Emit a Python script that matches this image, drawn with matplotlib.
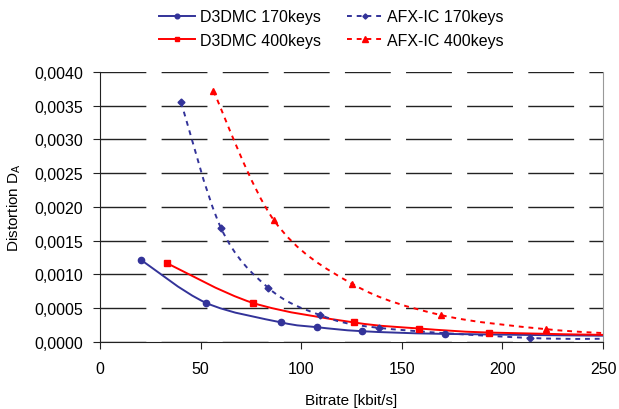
import matplotlib
matplotlib.use("Agg")
import matplotlib.pyplot as plt
from matplotlib.ticker import FuncFormatter, MultipleLocator
from matplotlib.path import Path
from matplotlib.patches import PathPatch
from matplotlib.lines import Line2D

plt.rcParams['font.family'] = ['Liberation Sans', 'DejaVu Sans']
plt.rcParams['mathtext.fontset'] = 'custom'
plt.rcParams['mathtext.rm'] = 'Liberation Sans'

# data (bitrate kbit/s, distortion)
d3dmc_170_x = [20.2, 52.7, 90.1, 107.7, 130.4, 171.6, 262]
d3dmc_170_y = [0.00122, 0.00058, 0.00029, 0.00022, 0.00016, 0.00012, 0.00009]
d3dmc_400_x = [33.1, 75.9, 126.2, 158.7, 193.3, 262]
d3dmc_400_y = [0.00117, 0.00058, 0.00029, 0.00020, 0.00014, 0.00010]
afx_170_x = [40.3, 60.1, 83.7, 109.3, 138.5, 213.7, 262]
afx_170_y = [0.00355, 0.00169, 0.00080, 0.00040, 0.00021, 0.00006, 0.00005]
afx_400_x = [56.3, 86.5, 125.4, 169.3, 221.7, 265]
afx_400_y = [0.00372, 0.00180, 0.00086, 0.00040, 0.00019, 0.00011]

blue = '#333399'
red = '#ff0000'
dots = (0, (2.5, 2.5))


def smooth_path(xs, ys):
    # excel-like smoothed line: cubic bezier through the points
    pts = list(zip(xs, ys))
    verts = [pts[0]]
    codes = [Path.MOVETO]
    n = len(pts)
    for i in range(n - 1):
        p0 = pts[i - 1] if i > 0 else pts[i]
        p1 = pts[i]
        p2 = pts[i + 1]
        p3 = pts[i + 2] if i + 2 < n else pts[i + 1]
        c1 = (p1[0] + (p2[0] - p0[0]) / 6, p1[1] + (p2[1] - p0[1]) / 6)
        c2 = (p2[0] - (p3[0] - p1[0]) / 6, p2[1] - (p3[1] - p1[1]) / 6)
        verts += [c1, c2, p2]
        codes += [Path.CURVE4] * 3
    return Path(verts, codes)


fig = plt.figure(figsize=(6.19, 4.10), dpi=100)
ax = fig.add_axes([0.1616, 0.1634, 0.8126, 0.6586])

series = [
    (d3dmc_170_x, d3dmc_170_y, blue, '-', 'o', 4.5, 'D3DMC 170keys'),
    (d3dmc_400_x, d3dmc_400_y, red, '-', 's', 4.5, 'D3DMC 400keys'),
    (afx_170_x, afx_170_y, blue, dots, 'D', 3.5, 'AFX-IC 170keys'),
    (afx_400_x, afx_400_y, red, dots, '^', 5, 'AFX-IC 400keys'),
]
handles = []
for xs, ys, c, ls, m, ms, lab in series:
    ax.add_patch(PathPatch(smooth_path(xs, ys), fill=False, ec=c, lw=1.4, ls=ls))
    ax.plot(xs, ys, ls='none', marker=m, ms=ms, color=c)
    handles.append(Line2D([], [], color=c, lw=1.4, ls=ls, marker=m,
                          ms=ms * 0.75, label=lab))

ax.set_xlim(0, 250)
ax.set_ylim(0, 0.004)
ax.xaxis.set_major_locator(MultipleLocator(50))
ax.yaxis.set_major_locator(MultipleLocator(0.0005))
ax.yaxis.set_major_formatter(FuncFormatter(lambda v, p: f"{v:.4f}".replace('.', ',')))

ax.grid(axis='y', color='#222222', lw=1.0, ls=(0, (33, 11)))
ax.set_axisbelow(True)
ax.spines['top'].set_visible(False)
ax.spines['right'].set_color('#999999')
ax.spines['left'].set_color('#222222')
ax.spines['bottom'].set_color('#222222')
ax.tick_params(direction='out', length=5, labelsize=11.5, colors='#222222',
               labelcolor='black')
ax.tick_params(axis='y', pad=7)
ax.tick_params(axis='x', pad=9)

ax.set_xlabel('Bitrate [kbit/s]', fontsize=11, labelpad=12)
ax.set_ylabel('Distortion D$_\\mathrm{A}$', fontsize=11, labelpad=8)

fig.legend(handles=handles, ncol=2,
           loc='upper center', bbox_to_anchor=(0.536, 1.01), frameon=False,
           fontsize=11.5, handlelength=2.25, columnspacing=1.6,
           labelspacing=0.55, handletextpad=0.3)

fig.savefig('out.png', dpi=100)
